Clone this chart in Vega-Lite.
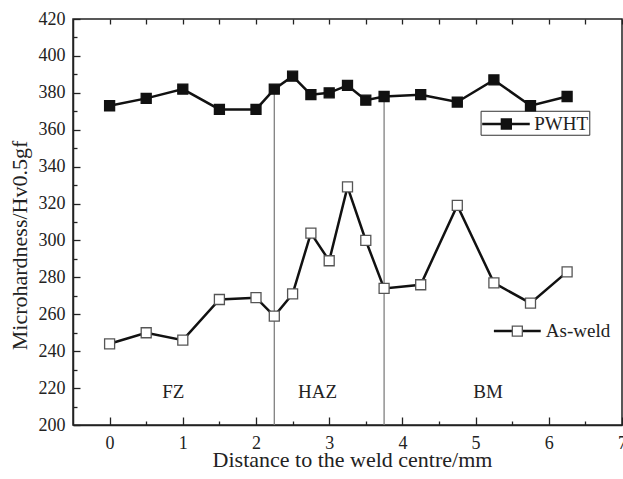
{
  "$schema": "https://vega.github.io/schema/vega-lite/v6.json",
  "width": 549,
  "height": 406,
  "autosize": "none",
  "padding": {"left": 73, "top": 19, "right": 1, "bottom": 54},
  "config": {
    "font": "'Liberation Serif', 'Times New Roman', serif",
    "view": {"stroke": "#222", "strokeWidth": 1.5},
    "text": {"font": "'Liberation Serif', 'Times New Roman', serif"},
    "axis": {"grid": false, "domainColor": "#222", "domainWidth": 1.5, "tickColor": "#222", "tickWidth": 1.3, "labelColor": "#222", "titleColor": "#222", "labelFont": "'Liberation Serif', 'Times New Roman', serif", "titleFont": "'Liberation Serif', 'Times New Roman', serif", "titleFontWeight": "normal", "labelFontSize": 18, "titleFontSize": 22}
  },
  "datasets": {
    "hard": [
      {"series": "PWHT", "x": 0, "y": 373}, {"series": "PWHT", "x": 0.5, "y": 377}, {"series": "PWHT", "x": 1, "y": 382},
      {"series": "PWHT", "x": 1.5, "y": 371}, {"series": "PWHT", "x": 2, "y": 371}, {"series": "PWHT", "x": 2.25, "y": 382},
      {"series": "PWHT", "x": 2.5, "y": 389}, {"series": "PWHT", "x": 2.75, "y": 379}, {"series": "PWHT", "x": 3, "y": 380},
      {"series": "PWHT", "x": 3.25, "y": 384}, {"series": "PWHT", "x": 3.5, "y": 376}, {"series": "PWHT", "x": 3.75, "y": 378},
      {"series": "PWHT", "x": 4.25, "y": 379}, {"series": "PWHT", "x": 4.75, "y": 375}, {"series": "PWHT", "x": 5.25, "y": 387},
      {"series": "PWHT", "x": 5.75, "y": 373}, {"series": "PWHT", "x": 6.25, "y": 378},
      {"series": "As-weld", "x": 0, "y": 244}, {"series": "As-weld", "x": 0.5, "y": 250}, {"series": "As-weld", "x": 1, "y": 246},
      {"series": "As-weld", "x": 1.5, "y": 268}, {"series": "As-weld", "x": 2, "y": 269}, {"series": "As-weld", "x": 2.25, "y": 259},
      {"series": "As-weld", "x": 2.5, "y": 271}, {"series": "As-weld", "x": 2.75, "y": 304}, {"series": "As-weld", "x": 3, "y": 289},
      {"series": "As-weld", "x": 3.25, "y": 329}, {"series": "As-weld", "x": 3.5, "y": 300}, {"series": "As-weld", "x": 3.75, "y": 274},
      {"series": "As-weld", "x": 4.25, "y": 276}, {"series": "As-weld", "x": 4.75, "y": 319}, {"series": "As-weld", "x": 5.25, "y": 277},
      {"series": "As-weld", "x": 5.75, "y": 266}, {"series": "As-weld", "x": 6.25, "y": 283}
    ],
    "zones": [{"x": 2.25, "y": 382, "y0": 200}, {"x": 3.75, "y": 378, "y0": 200}],
    "zoneLabels": [{"x": 0.87, "y": 218, "text": "FZ"}, {"x": 2.84, "y": 218, "text": "HAZ"}, {"x": 5.17, "y": 218, "text": "BM"}],
    "legBox": [{"x": 5.075, "x2": 6.56, "y": 357, "y2": 370}],
    "legLines": [{"series": "PWHT", "x": 5.09, "x2": 5.74, "y": 363.1}, {"series": "As-weld", "x": 5.25, "x2": 5.89, "y": 250.9}],
    "legPts": [{"series": "PWHT", "x": 5.42, "y": 363.1}, {"series": "As-weld", "x": 5.57, "y": 250.9}],
    "legText": [{"text": "PWHT", "x": 5.8, "y": 363.1}, {"text": "As-weld", "x": 5.96, "y": 250.9}]
  },
  "resolve": {"axis": {"x": "independent"}},
  "encoding": {
    "x": {"field": "x", "type": "quantitative", "scale": {"domain": [-0.5, 7], "nice": false, "zero": false}, "axis": null},
    "y": {"field": "y", "type": "quantitative", "scale": {"domain": [200, 420], "nice": false, "zero": false},
      "axis": {"orient": "left", "values": [200,210,220,230,240,250,260,270,280,290,300,310,320,330,340,350,360,370,380,390,400,410,420],
        "labelExpr": "datum.value % 20 === 0 ? format(datum.value, 'd') : ''",
        "tickSize": {"condition": {"test": "datum.value % 20 === 0", "value": -7}, "value": -4},
        "labelPadding": 15, "labelOverlap": false, "labelFlush": false,
        "title": "Microhardness/Hv0.5gf", "titleX": -47, "titleY": 226, "titleBaseline": "alphabetic", "titleAlign": "center", "titleAngle": -90}}
  },
  "layer": [
    {
      "data": {"name": "zones"},
      "mark": {"type": "rule", "color": "#808080", "strokeWidth": 1.3},
      "encoding": {
        "x": {"field": "x", "type": "quantitative", "scale": {"domain": [-0.5, 7], "nice": false, "zero": false},
          "axis": {"orient": "bottom", "values": [0,0.5,1,1.5,2,2.5,3,3.5,4,4.5,5,5.5,6,6.5,7],
            "labelExpr": "datum.value % 1 === 0 ? format(datum.value, 'd') : ''",
            "tickSize": {"condition": {"test": "datum.value % 1 === 0", "value": -8}, "value": -4},
            "labelPadding": 17, "labelFlush": false, "labelBound": false, "labelOverlap": false,
            "title": "Distance to the weld centre/mm", "titleX": 279, "titleY": 41, "titleBaseline": "alphabetic", "titleAlign": "center"}},
        "y2": {"field": "y0"}
      }
    },
    {
      "data": {"name": "zones"},
      "mark": {"type": "rule", "opacity": 0},
      "encoding": {
        "x": {"field": "x", "type": "quantitative", "scale": {"domain": [-0.5, 7], "nice": false, "zero": false},
          "axis": {"orient": "top", "values": [0,0.5,1,1.5,2,2.5,3,3.5,4,4.5,5,5.5,6,6.5,7], "labels": false, "domain": false, "tickSize": -5, "title": null}},
        "y2": {"field": "y0"}
      }
    },
    {
      "data": {"name": "legBox"},
      "mark": {"type": "rect", "fill": "#ffffff", "stroke": "#333", "strokeWidth": 1},
      "encoding": {"x2": {"field": "x2"}, "y2": {"field": "y2"}}
    },
    {
      "data": {"name": "hard"},
      "mark": {"type": "line", "color": "#111", "strokeWidth": 2.5},
      "encoding": {"detail": {"field": "series", "type": "nominal"}}
    },
    {
      "data": {"name": "hard"},
      "mark": {"type": "point", "shape": "square", "size": 100, "filled": true, "opacity": 1, "strokeWidth": 1.3},
      "encoding": {
        "fill": {"field": "series", "type": "nominal", "scale": {"domain": ["PWHT", "As-weld"], "range": ["#111111", "#ffffff"]}, "legend": null},
        "stroke": {"field": "series", "type": "nominal", "scale": {"domain": ["PWHT", "As-weld"], "range": ["#111111", "#555555"]}, "legend": null}
      }
    },
    {
      "data": {"name": "legLines"},
      "mark": {"type": "rule", "color": "#111", "strokeWidth": 2.5},
      "encoding": {"x2": {"field": "x2"}}
    },
    {
      "data": {"name": "legPts"},
      "mark": {"type": "point", "shape": "square", "size": 100, "filled": true, "opacity": 1, "strokeWidth": 1.3},
      "encoding": {
        "fill": {"field": "series", "type": "nominal", "scale": {"domain": ["PWHT", "As-weld"], "range": ["#111111", "#ffffff"]}, "legend": null},
        "stroke": {"field": "series", "type": "nominal", "scale": {"domain": ["PWHT", "As-weld"], "range": ["#111111", "#555555"]}, "legend": null}
      }
    },
    {
      "data": {"name": "legText"},
      "mark": {"type": "text", "align": "left", "baseline": "middle", "fontSize": 19, "color": "#222"},
      "encoding": {"text": {"field": "text"}}
    },
    {
      "data": {"name": "zoneLabels"},
      "mark": {"type": "text", "align": "center", "baseline": "middle", "fontSize": 19, "color": "#222"},
      "encoding": {"text": {"field": "text"}}
    }
  ]
}
